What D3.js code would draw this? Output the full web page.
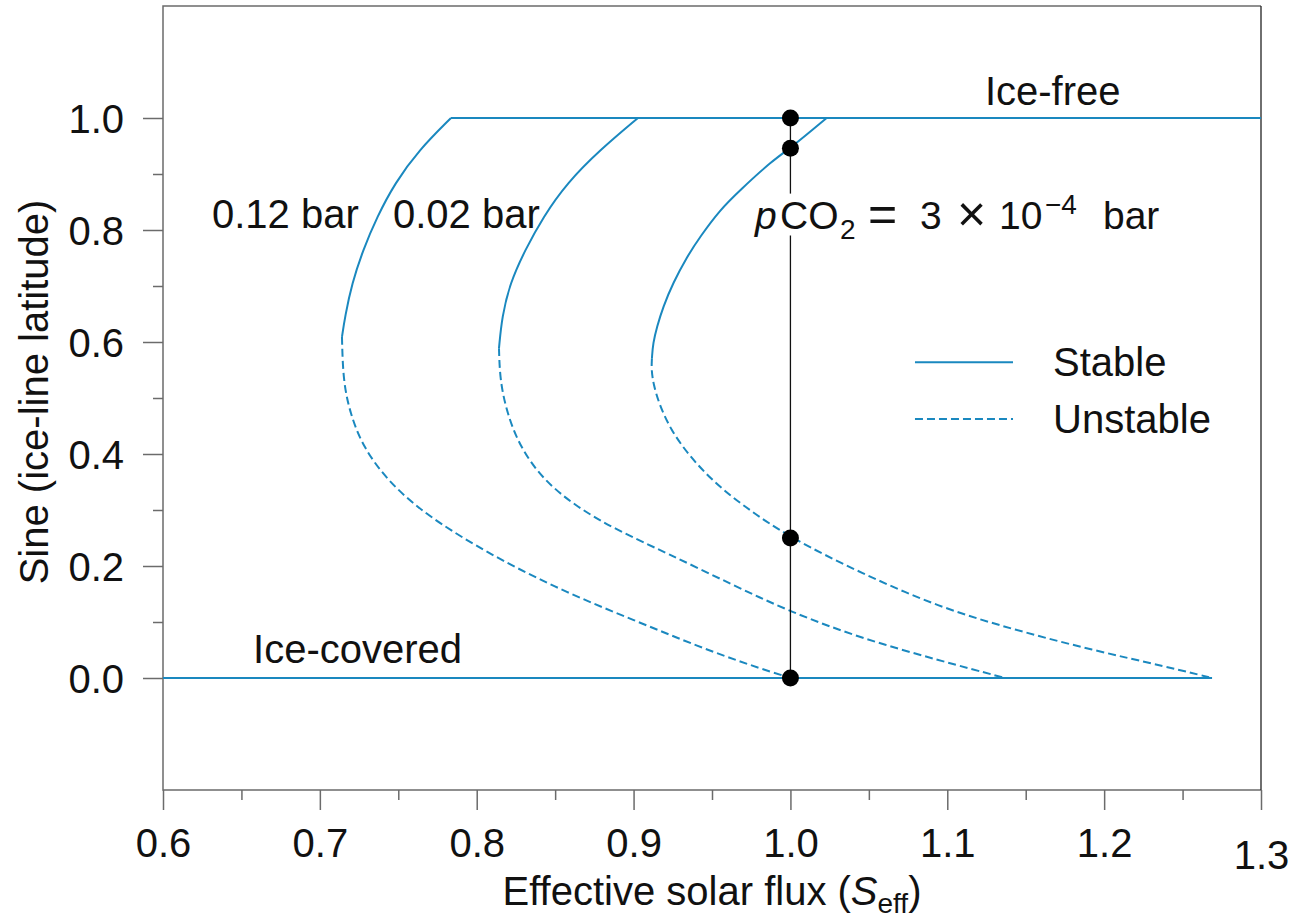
<!DOCTYPE html>
<html>
<head>
<meta charset="utf-8">
<script src="https://cdn.jsdelivr.net/npm/d3@7"></script>
<style>
    html, body { margin: 0; padding: 0; background: #fff; }
    svg { display: block; font-family: "Liberation Sans", Arial, Helvetica, sans-serif; }
</style>
</head>
<body>
<div id="chart"></div>
<script>
// ice-line latitude (sine) vs effective solar flux, three pCO2 levels
var xTicks = [0.6, 0.7, 0.8, 0.9, 1.0, 1.1, 1.2, 1.3];
var xMinorTicks = [0.65, 0.75, 0.85, 0.95, 1.05, 1.15, 1.25];
var yTicks = [0.0, 0.2, 0.4, 0.6, 0.8, 1.0];
var yMinorTicks = [0.1, 0.3, 0.5, 0.7, 0.9];

// stable branch: from the ice-free line down to the turning point
var stable012 = [[0.7836, 1.0], [0.7632, 0.943], [0.7479, 0.884], [0.7364, 0.823], [0.7275, 0.764], [0.7205, 0.705], [0.716, 0.645], [0.7141, 0.609]];
var stable002 = [[0.9028, 1.0], [0.8786, 0.943], [0.8576, 0.884], [0.8423, 0.823], [0.8308, 0.764], [0.8212, 0.705], [0.8161, 0.645], [0.8142, 0.589]];
var stable3e4 = [[1.0231, 1.0], [1.0, 0.946], [0.9889, 0.925], [0.9678, 0.871], [0.9551, 0.836], [0.9423, 0.7875], [0.934, 0.752], [0.9251, 0.705], [0.9188, 0.6625], [0.9149, 0.627], [0.9124, 0.598], [0.9117, 0.571]];

// unstable branch: from the turning point down to the ice-covered line
var unstable012 = [[0.7141, 0.609], [0.7148, 0.532], [0.7192, 0.473], [0.7275, 0.4125], [0.7428, 0.354], [0.7619, 0.305], [0.783, 0.264], [0.8148, 0.211], [0.8576, 0.152], [0.8996, 0.104], [0.9423, 0.055], [0.9742, 0.023], [1.0, 0.0]];
var unstable002 = [[0.8142, 0.589], [0.8148, 0.532], [0.8193, 0.473], [0.8276, 0.4125], [0.8423, 0.354], [0.8639, 0.305], [0.8894, 0.264], [0.9213, 0.223], [0.9634, 0.166], [1.0, 0.118], [1.045, 0.071], [1.0941, 0.032], [1.1368, 0.0]];
var unstable3e4 = [[0.9117, 0.571], [0.9111, 0.532], [0.9219, 0.443], [0.9468, 0.359], [0.971, 0.305], [1.0, 0.25], [1.045, 0.1875], [1.0941, 0.127], [1.1432, 0.0857], [1.1923, 0.05], [1.2407, 0.0196], [1.2688, 0.0]];

var iceFree = [[0.7836, 1.0], [1.3, 1.0]];
var iceCovered = [[0.6, 0.0], [1.2688, 0.0]];

// equilibria at present-day flux
var presentFlux = 1.0;
var equilibria = [1.0, 0.946, 0.25, 0.0];
var lineGap = [0.865, 0.79];

var width = 1299, height = 924;
var margin = { left: 163, right: 38, top: 6, bottom: 134 };
var blue = "#1a88bf";
var axisGrey = "#6b6b6b";
var fontSize = 40;

var svg = d3.select("#chart").append("svg").attr("width", width).attr("height", height);

var x = d3.scaleLinear().domain([0.6, 1.3]).range([margin.left, width - margin.right]);
var y = d3.scaleLinear().domain([-0.2, 1.2]).range([height - margin.bottom, margin.top]);

// frame
svg.append("path")
    .attr("d", "M" + x(1.3) + "," + y(1.2) + "H" + x(0.6) + "V" + y(-0.2) + "H" + x(1.3))
    .attr("fill", "none").attr("stroke", axisGrey).attr("stroke-width", 1.5);
svg.append("line")
    .attr("x1", x(1.3)).attr("x2", x(1.3)).attr("y1", y(1.2)).attr("y2", y(-0.2))
    .attr("stroke", "#222").attr("stroke-width", 1.3);

// axes
function styleAxis(g) {
    g.select(".domain").remove();
    g.selectAll(".tick line").attr("stroke", axisGrey).attr("stroke-width", 1.5);
    g.selectAll(".tick text").attr("fill", "#111").style("font-size", fontSize + "px");
}

var xAxis = svg.append("g").attr("transform", "translate(0," + y(-0.2) + ")")
    .call(d3.axisBottom(x).tickValues(xTicks).tickSize(20).tickPadding(19).tickFormat(d3.format(".1f")))
    .call(styleAxis);
xAxis.selectAll(".tick text").filter(function (d) { return d === 1.3; }).attr("dy", "1.0em");
svg.append("g").attr("transform", "translate(0," + y(-0.2) + ")")
    .call(d3.axisBottom(x).tickValues(xMinorTicks).tickSize(10).tickFormat(""))
    .call(styleAxis);

svg.append("g").attr("transform", "translate(" + x(0.6) + ",0)")
    .call(d3.axisLeft(y).tickValues(yTicks).tickSize(20).tickPadding(19).tickFormat(d3.format(".1f")))
    .call(styleAxis)
    .selectAll(".tick text").attr("dy", "0.36em");
svg.append("g").attr("transform", "translate(" + x(0.6) + ",0)")
    .call(d3.axisLeft(y).tickValues(yMinorTicks).tickSize(10).tickFormat(""))
    .call(styleAxis);

// axis titles
var xTitle = svg.append("text")
    .attr("x", (x(0.6) + x(1.3)) / 2).attr("y", 905)
    .attr("text-anchor", "middle").attr("fill", "#111").style("font-size", fontSize + "px");
xTitle.append("tspan").text("Effective solar flux (");
xTitle.append("tspan").attr("font-style", "italic").text("S");
xTitle.append("tspan").attr("dy", 8).style("font-size", "28px").text("eff");
xTitle.append("tspan").attr("dy", -8).text(")");

svg.append("text")
    .attr("transform", "translate(48," + (y(0.5) - 6) + ") rotate(-90)")
    .attr("text-anchor", "middle").attr("fill", "#111").style("font-size", fontSize + "px")
    .text("Sine (ice-line latitude)");

// curves
var line = d3.line()
    .x(function (d) { return x(d[0]); })
    .y(function (d) { return y(d[1]); })
    .curve(d3.curveBasis);
var straight = d3.line()
    .x(function (d) { return x(d[0]); })
    .y(function (d) { return y(d[1]); });

[iceFree, iceCovered].forEach(function (d) {
    svg.append("path").attr("d", straight(d))
        .attr("fill", "none").attr("stroke", blue).attr("stroke-width", 2);
});
[stable012, stable002, stable3e4].forEach(function (d) {
    svg.append("path").attr("d", line(d))
        .attr("fill", "none").attr("stroke", blue).attr("stroke-width", 2);
});
[unstable012, unstable002, unstable3e4].forEach(function (d) {
    svg.append("path").attr("d", line(d))
        .attr("fill", "none").attr("stroke", blue).attr("stroke-width", 2)
        .attr("stroke-dasharray", "8,4");
});

// present-day flux line and equilibria
[[1.0, lineGap[0]], [lineGap[1], 0.0]].forEach(function (seg) {
    svg.append("line")
        .attr("x1", x(presentFlux)).attr("x2", x(presentFlux))
        .attr("y1", y(seg[0])).attr("y2", y(seg[1]))
        .attr("stroke", "#111").attr("stroke-width", 1.3);
});
svg.selectAll(".eq").data(equilibria).enter().append("circle")
    .attr("class", "eq")
    .attr("cx", x(presentFlux))
    .attr("cy", function (d) { return y(d); })
    .attr("r", 8.5)
    .attr("fill", "#000");

// annotations
function label(sx, sy, txt) {
    return svg.append("text").attr("x", x(sx)).attr("y", y(sy))
        .attr("fill", "#111").style("font-size", fontSize + "px").text(txt);
}
label(1.124, 1.023, "Ice-free");
label(0.6574, 0.027, "Ice-covered");
label(0.6312, 0.8036, "0.12 bar");
label(0.7466, 0.8036, "0.02 bar");

var x0 = x(0.9774), base = y(0.802);
var co2 = svg.append("text").attr("x", x0).attr("y", base)
    .attr("fill", "#111").style("font-size", "39px");
co2.append("tspan").attr("x", x0).attr("font-style", "italic").text("p");
co2.append("tspan").attr("x", x0 + 25).text("CO");
co2.append("tspan").attr("x", x0 + 85).attr("y", base + 10).style("font-size", "28px").text("2");
co2.append("tspan").attr("x", x0 + 113).attr("y", base + 2).style("font-size", "50px").text("=");
co2.append("tspan").attr("x", x0 + 165).attr("y", base).text("3");
co2.append("tspan").attr("x", x0 + 202).attr("y", base + 2).style("font-size", "50px").text("\u00d7");
co2.append("tspan").attr("x", x0 + 244).attr("y", base).text("10");
co2.append("tspan").attr("x", x0 + 290).attr("y", base - 15).style("font-size", "28px").text("\u22124");
co2.append("tspan").attr("x", x0 + 348).attr("y", base).text("bar");

// legend
var legend = [["Stable", null, 0.564], ["Unstable", "8,4", 0.4625]];
legend.forEach(function (d) {
    svg.append("line")
        .attr("x1", x(1.0794)).attr("x2", x(1.1419))
        .attr("y1", y(d[2])).attr("y2", y(d[2]))
        .attr("stroke", blue).attr("stroke-width", 2)
        .attr("stroke-dasharray", d[1]);
    svg.append("text").attr("x", x(1.1674)).attr("y", y(d[2]) + 14)
        .attr("fill", "#111").style("font-size", fontSize + "px").text(d[0]);
});
</script>
</body>
</html>
